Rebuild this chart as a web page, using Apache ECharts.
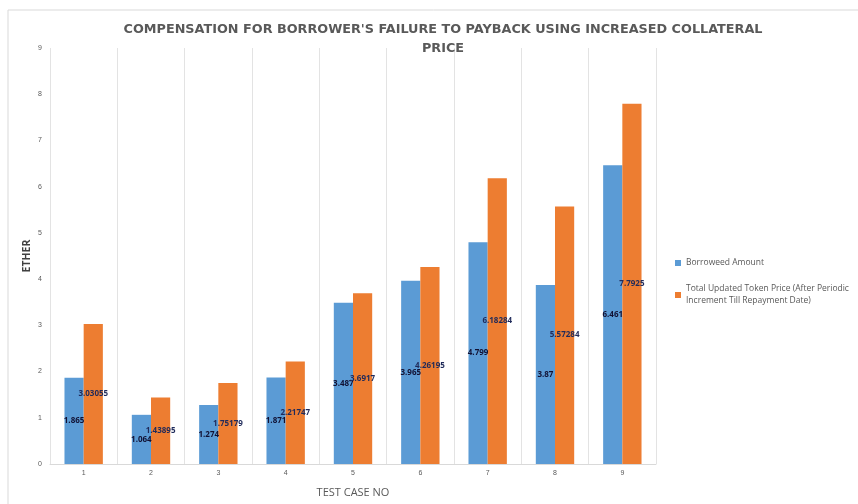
<!DOCTYPE html>
<html>
<head>
<meta charset="utf-8">
<script src="https://cdn.jsdelivr.net/npm/echarts@6/dist/echarts.min.js"></script>
<style>
  html, body { margin: 0; padding: 0; background: #ffffff; }
  #main { width: 858px; height: 504px; }
</style>
</head>
<body>
<div id="main"></div>
<script>
// test case numbers
var testCases = ['1', '2', '3', '4', '5', '6', '7', '8', '9'];
// borrowed amount (ether)
var borrowed = [1.865, 1.064, 1.274, 1.871, 3.487, 3.965, 4.799, 3.87, 6.461];
// total updated token price (ether)
var tokenPrice = [3.03055, 1.43895, 1.75179, 2.21747, 3.6917, 4.26195, 6.18284, 5.57284, 7.7925];

window.onload = () => {
	var myChart = echarts.init(document.getElementById('main'));

	var labelStyle = {
		show: true,
		position: 'inside',
		fontSize: 8,
		fontWeight: 'bold',
		fontFamily: 'Open Sans'
	};

	var option = {
		backgroundColor: '#ffffff',
		animation: false,
		graphic: [{
			type: 'rect',
			shape: { x: 8, y: 10, width: 860, height: 510 },
			style: { fill: 'none', stroke: '#d9d9d9', lineWidth: 1 },
			silent: true
		}],
		title: {
			text: "COMPENSATION FOR BORROWER'S FAILURE TO PAYBACK USING INCREASED COLLATERAL\nPRICE",
			left: 438,
			textAlign: 'center',
			top: 15,
			textStyle: {
				fontFamily: 'DejaVu Sans',
				fontSize: 12.8,
				fontWeight: 'bold',
				color: '#595959',
				lineHeight: 19
			}
		},
		legend: {
			orient: 'vertical',
			left: 670,
			top: 252,
			itemWidth: 6,
			itemHeight: 6,
			itemGap: 14,
			icon: 'rect',
			textStyle: {
				fontFamily: 'Open Sans',
				fontSize: 8.5,
				color: '#595959',
				lineHeight: 12
			},
			data: ['Borroweed Amount', 'Total Updated Token Price (After Periodic\nIncrement Till Repayment Date)']
		},
		grid: {
			left: 50,
			right: 202,
			top: 48,
			bottom: 40
		},
		xAxis: {
			type: 'category',
			data: testCases,
			name: 'TEST CASE NO',
			nameLocation: 'middle',
			nameGap: 23,
			nameTextStyle: { fontFamily: 'Open Sans', fontSize: 11, color: '#595959' },
			axisLine: { lineStyle: { color: '#d9d9d9' } },
			axisTick: { show: false },
			axisLabel: { fontSize: 7, color: '#595959', margin: 6 },
			splitLine: { show: true, lineStyle: { color: '#e3e3e3' } }
		},
		yAxis: {
			type: 'value',
			min: 0,
			max: 9,
			interval: 1,
			name: 'ETHER',
			nameLocation: 'middle',
			nameGap: 17,
			nameMoveOverlap: false,
			nameTextStyle: { fontFamily: 'Open Sans', fontSize: 10.5, fontWeight: 'bold', color: '#404040' },
			axisLine: { show: false },
			axisTick: { show: false },
			axisLabel: { fontSize: 7, color: '#595959', margin: 8 },
			splitLine: { show: false }
		},
		series: [
			{
				name: 'Borroweed Amount',
				type: 'bar',
				data: borrowed,
				itemStyle: { color: '#5b9bd5' },
				barGap: '0%',
				barCategoryGap: '43%',
				label: Object.assign({}, labelStyle, { color: '#111133' })
			},
			{
				name: 'Total Updated Token Price (After Periodic\nIncrement Till Repayment Date)',
				type: 'bar',
				data: tokenPrice,
				itemStyle: { color: '#ed7d31' },
				label: Object.assign({}, labelStyle, { color: '#1f2a5a' })
			}
		]
	};

	myChart.setOption(option);
};
</script>
</body>
</html>
